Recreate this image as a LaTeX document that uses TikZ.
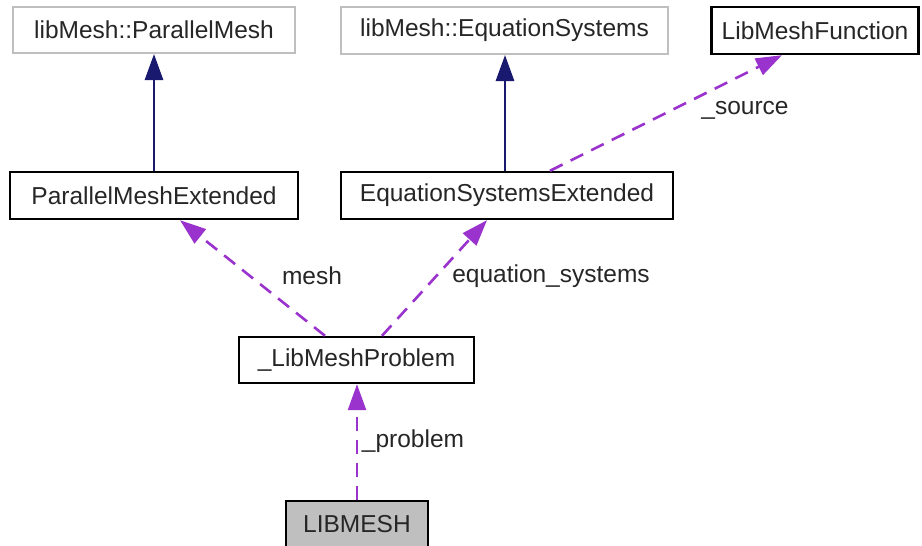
\documentclass[tikz,border=0pt]{standalone}
\usepackage{fontspec}
\setmainfont{Liberation Sans}
\usetikzlibrary{arrows.meta}
\definecolor{inherit}{HTML}{191970}
\definecolor{usage}{HTML}{9A32CD}
\definecolor{extborder}{HTML}{BFBFBF}
\definecolor{selffill}{HTML}{BFBFBF}
\tikzset{
  cls/.style={draw=black, line width=2.4pt, fill=white, inner sep=0pt,
    font=\fontsize{24.5}{29}\selectfont, text=black!85},
  extcls/.style={cls, draw=extborder, line width=2pt},
  selfcls/.style={cls, fill=selffill},
  inh/.style={draw=inherit, line width=2.8pt,
    -{Triangle[length=26pt,width=18pt]}},
  use/.style={draw=usage, line width=2.6pt, dash pattern=on 14pt off 9pt,
    -{Triangle[length=26pt,width=18pt]}},
  elabel/.style={font=\fontsize{24.5}{29}\selectfont, text=black!85}
}
\begin{document}
\begin{tikzpicture}[x=1pt,y=-1pt]
\useasboundingbox (0,0) rectangle (922,546);
% classes
\node[extcls, minimum width=282pt, minimum height=46pt] (pm) at (154,30) {libMesh::ParallelMesh};
\node[extcls, minimum width=327pt, minimum height=47pt] (es) at (504.5,30.5) {libMesh::EquationSystems};
\node[cls, minimum width=207pt, minimum height=47pt] (lmf) at (815,30.5) {LibMeshFunction};
\node[cls, minimum width=288pt, minimum height=47pt] (pme) at (154,195.5) {ParallelMeshExtended};
\node[cls, minimum width=332pt, minimum height=47pt] (ese) at (507,195.5) {EquationSystemsExtended};
\node[cls, minimum width=235pt, minimum height=46pt] (lmp) at (356.5,360) {\_LibMeshProblem};
\node[selfcls, minimum width=142pt, minimum height=46pt] (lib) at (357,524) {LIBMESH};
% inheritance
\draw[inh] (pme.north) -- (pm.south);
\draw[inh] ([xshift=-2pt]ese.north) -- ([xshift=0.5pt]es.south);
% usage relations
\draw[use] ([xshift=43pt]ese.north) -- ([xshift=-33pt]lmf.south);
\draw[use] ([xshift=-31.5pt]lmp.north) -- ([xshift=26pt]pme.south);
\draw[use] ([xshift=25.5pt]lmp.north) -- ([xshift=-20pt]ese.south);
\draw[use] (lib.north) -- ([xshift=0.5pt]lmp.south);
% labels
\node[elabel] (lsrc) at (745,110) {\_source};
\node[elabel] (lmesh) at (312,276) {mesh};
\node[elabel] (leq) at (551,276) {equation\_systems};
\node[elabel] (lprob) at (413,441) {\_problem};
\end{tikzpicture}
\end{document}
